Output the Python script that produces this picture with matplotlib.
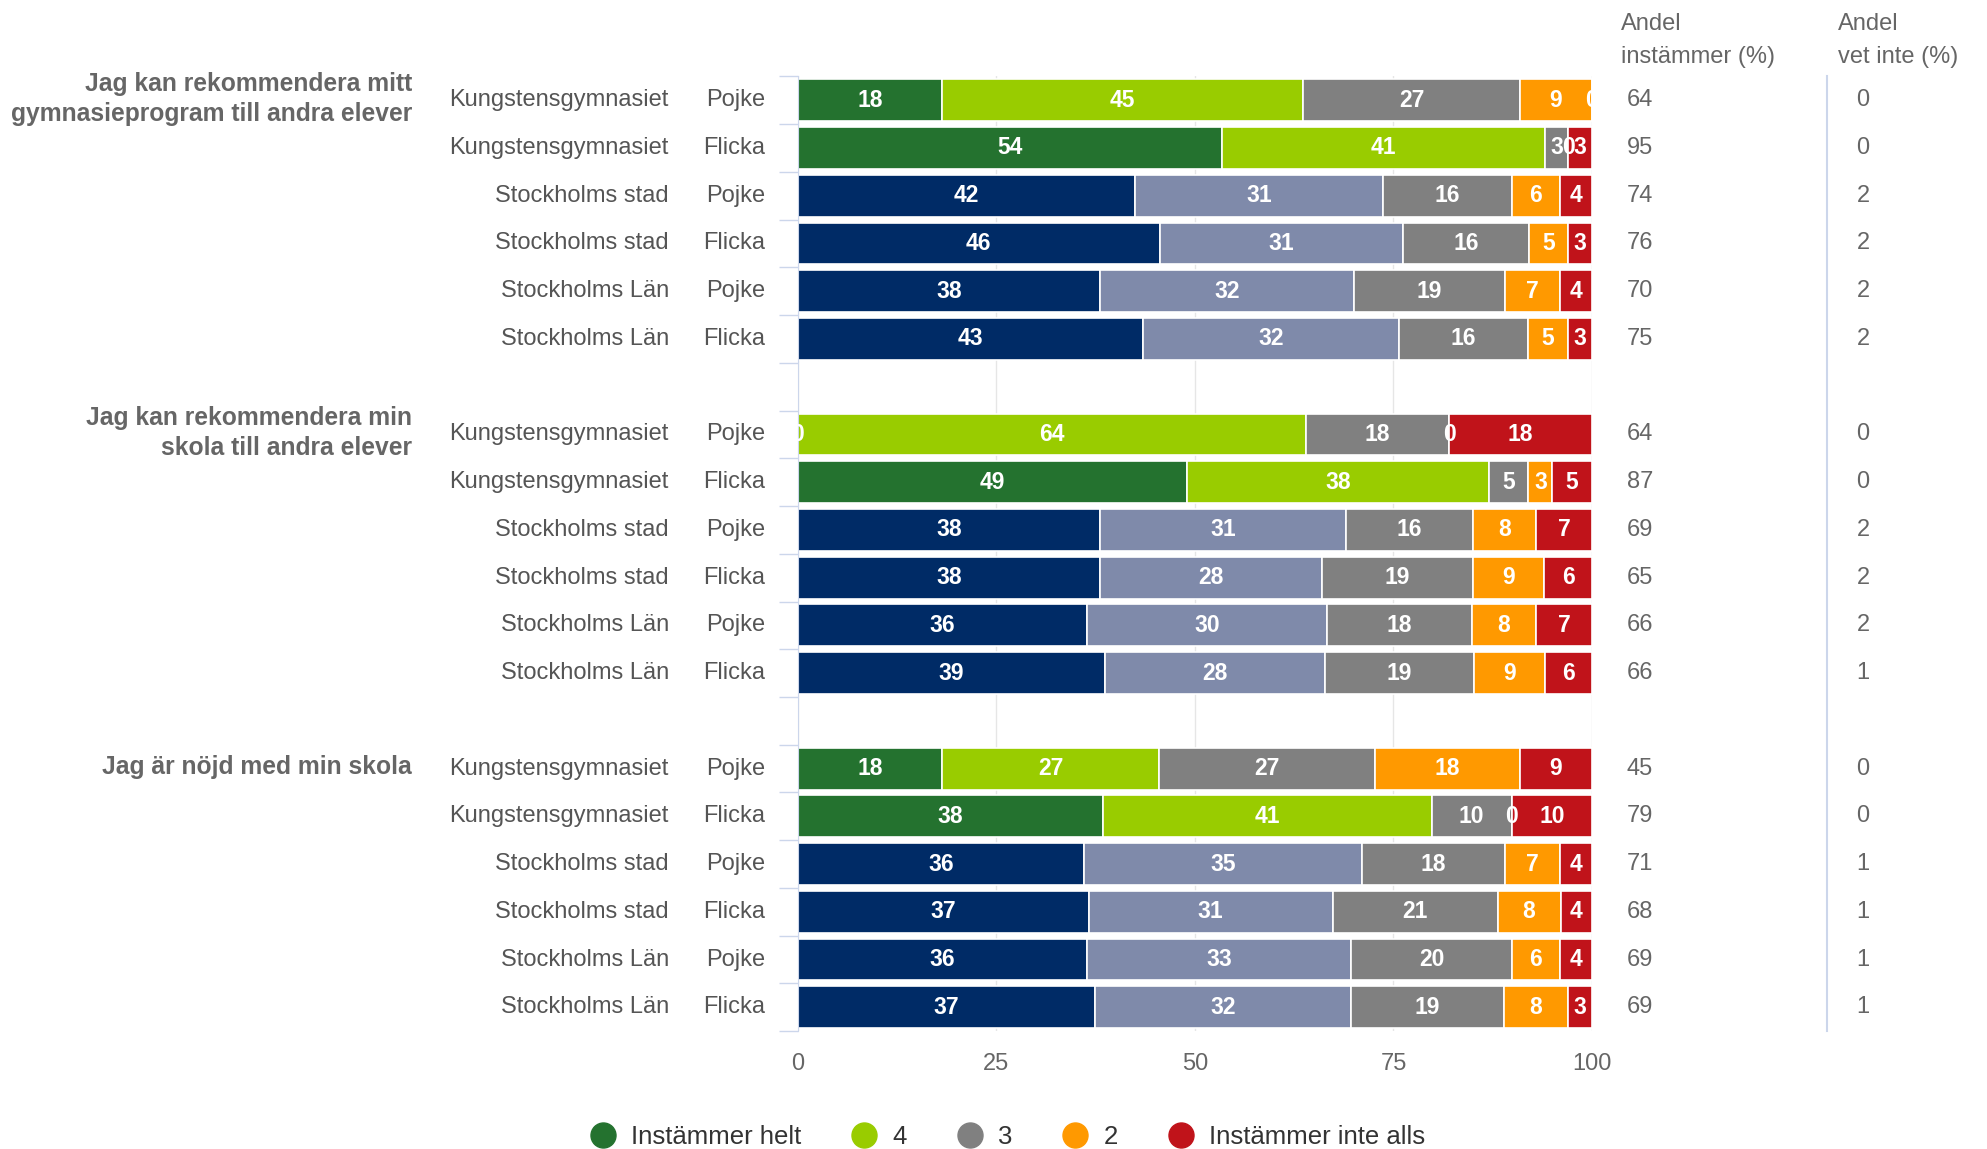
import numpy as np
import matplotlib
matplotlib.use("Agg")
import matplotlib.pyplot as plt
from matplotlib.lines import Line2D

plt.rcParams['font.family'] = ['Liberation Sans', 'DejaVu Sans']

# --- DATA ---
questions = [
    "Jag kan rekommendera mitt\ngymnasieprogram till andra elever",
    "Jag kan rekommendera min\nskola till andra elever",
    "Jag är nöjd med min skola",
]
schools = ["Kungstensgymnasiet", "Kungstensgymnasiet", "Stockholms stad",
           "Stockholms stad", "Stockholms Län", "Stockholms Län"]
genders = ["Pojke", "Flicka", "Pojke", "Flicka", "Pojke", "Flicka"]

# columns: Instämmer helt, 4, 3, 2, Instämmer inte alls
q1 = [[18, 45, 27, 9, 0],
      [54, 41, 3, 0, 3],
      [42, 31, 16, 6, 4],
      [46, 31, 16, 5, 3],
      [38, 32, 19, 7, 4],
      [43, 32, 16, 5, 3]]
q2 = [[0, 64, 18, 0, 18],
      [49, 38, 5, 3, 5],
      [38, 31, 16, 8, 7],
      [38, 28, 19, 9, 6],
      [36, 30, 18, 8, 7],
      [39, 28, 19, 9, 6]]
q3 = [[18, 27, 27, 18, 9],
      [38, 41, 10, 0, 10],
      [36, 35, 18, 7, 4],
      [37, 31, 21, 8, 4],
      [36, 33, 20, 6, 4],
      [37, 32, 19, 8, 3]]

andel_instammer = [[64, 95, 74, 76, 70, 75],
                   [64, 87, 69, 65, 66, 66],
                   [45, 79, 71, 68, 69, 69]]
andel_vet_inte = [[0, 0, 2, 2, 2, 2],
                  [0, 0, 2, 2, 2, 1],
                  [0, 0, 1, 1, 1, 1]]

legend_labels = ["Instämmer helt", "4", "3", "2", "Instämmer inte alls"]

# --- STYLE ---
KUNG_COLORS = ['#24722f', '#99cc00', '#808080', '#ff9900', '#c0131a']
STHLM_COLORS = ['#002b66', '#7f8aaa', '#808080', '#ff9900', '#c0131a']
GRAY_TEXT = '#666666'
AXIS_COL = '#ccd6eb'
FS = 17

fig = plt.figure(figsize=(19.87, 11.49), dpi=100)
ax = fig.add_axes([0.4016, 0.1025, 0.3996, 0.8311])

groups = [q1, q2, q3]
ypos = 0
for g, block in enumerate(groups):
    for r, row in enumerate(block):
        vals = np.array(row, dtype=float)
        widths = vals / vals.sum() * 100
        colors = KUNG_COLORS if schools[r].startswith("Kung") else STHLM_COLORS
        left = 0.0
        for k in range(5):
            ax.barh(ypos, widths[k], left=left, height=0.875, color=colors[k],
                    edgecolor='white', linewidth=1.2, zorder=2)
            ax.text(left + widths[k] / 2, ypos, str(row[k]), color='white',
                    fontsize=16.5, fontweight='bold', ha='center', va='center',
                    clip_on=True, zorder=3)
            left += widths[k]

        # row labels
        ax.text(-0.1625, ypos, schools[r], transform=ax.get_yaxis_transform(),
                ha='right', va='center', fontsize=FS, color='#555555')
        ax.text(-0.0416, ypos, genders[r], transform=ax.get_yaxis_transform(),
                ha='right', va='center', fontsize=FS, color='#555555')
        # extra columns
        ax.text(1.044, ypos, str(andel_instammer[g][r]), transform=ax.get_yaxis_transform(),
                ha='left', va='center', fontsize=FS, color=GRAY_TEXT)
        ax.text(1.333, ypos, str(andel_vet_inte[g][r]), transform=ax.get_yaxis_transform(),
                ha='left', va='center', fontsize=FS, color=GRAY_TEXT)
        if r == 0:
            ax.text(-0.486, ypos - 0.03, questions[g], transform=ax.get_yaxis_transform(),
                    ha='right', va='center', fontsize=17.7, fontweight='bold',
                    color=GRAY_TEXT, linespacing=1.32)
        ypos += 1
    ypos += 1  # empty slot between groups

n_slots = ypos - 1
ax.set_xlim(0, 100)
ax.set_ylim(n_slots - 0.5, -0.5)

ax.set_xticks([0, 25, 50, 75, 100])
ax.set_yticks(np.arange(-0.5, n_slots, 1.0))
ax.tick_params(axis='y', length=14, width=1, color=AXIS_COL, labelleft=False)
ax.tick_params(axis='x', length=0, labelsize=FS, labelcolor=GRAY_TEXT, pad=15.5)
ax.grid(axis='x', color='#e6e6e6', linewidth=1, zorder=0)
ax.set_axisbelow(True)
for side in ['top', 'right', 'bottom']:
    ax.spines[side].set_visible(False)
ax.spines['left'].set_color(AXIS_COL)

# separator between the two extra columns
ax.plot([1.296, 1.296], [0, 1], transform=ax.transAxes, color=AXIS_COL,
        linewidth=1.5, clip_on=False)

# column headers
fig.text(0.8158, 0.989, "Andel\ninstämmer (%)", ha='left', va='top',
         fontsize=FS, color=GRAY_TEXT, linespacing=1.64)
fig.text(0.925, 0.989, "Andel\nvet inte (%)", ha='left', va='top',
         fontsize=FS, color=GRAY_TEXT, linespacing=1.64)

# legend
handles = [Line2D([], [], marker='o', linestyle='none', markersize=18,
                  markerfacecolor=c, markeredgecolor=c) for c in KUNG_COLORS]
fig.legend(handles, legend_labels, loc='center', bbox_to_anchor=(0.507, 0.0104),
           ncol=5, frameon=False, fontsize=18.5, labelcolor='#333333',
           handlelength=1.0, handletextpad=0.6, columnspacing=1.95)

fig.savefig("out.png", dpi=100)
